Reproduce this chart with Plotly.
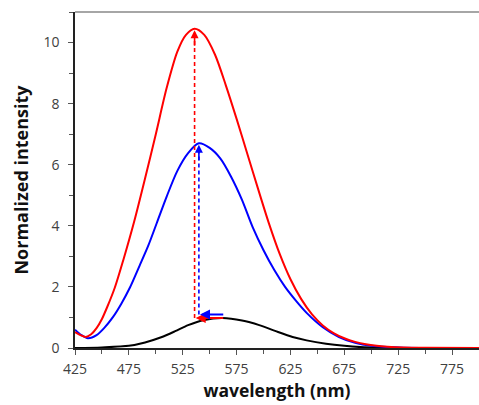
import plotly.graph_objects as go

# ---- data ----
red_wl = [425, 430, 435, 440, 445, 450, 455, 462, 470, 480, 490, 500, 510, 520, 528, 536,
          545, 555, 565, 575, 585, 595, 605, 615, 625, 635, 645, 655, 665, 675, 685, 695,
          705, 715, 730, 750, 800]
red_val = [0.52, 0.42, 0.36, 0.45, 0.65, 0.95, 1.35, 1.98, 2.90, 4.15, 5.55, 7.00, 8.50,
           9.70, 10.25, 10.45, 10.25, 9.60, 8.60, 7.50, 6.35, 5.20, 4.08, 3.08, 2.25, 1.60,
           1.10, 0.74, 0.49, 0.32, 0.20, 0.12, 0.07, 0.04, 0.015, 0.005, 0.0]

blue_wl = [425, 431, 437, 445, 452, 460, 468, 476, 485, 493, 501, 510, 520, 530, 540, 550,
           560, 570, 580, 590, 600, 610, 620, 630, 640, 655, 670, 685, 700, 715, 730, 800]
blue_val = [0.60, 0.42, 0.32, 0.42, 0.65, 1.00, 1.45, 1.98, 2.70, 3.35, 4.10, 4.95, 5.80,
            6.38, 6.70, 6.55, 6.20, 5.60, 4.85, 3.95, 3.20, 2.55, 2.00, 1.55, 1.15, 0.68,
            0.36, 0.17, 0.07, 0.03, 0.01, 0.0]

black_wl = [425, 450, 475, 490, 505, 518, 530, 545, 562, 580, 596, 610, 627, 640, 658, 675,
            690, 710, 740, 800]
black_val = [0.0, 0.02, 0.07, 0.18, 0.35, 0.55, 0.75, 0.92, 0.98, 0.90, 0.75, 0.57, 0.36,
             0.25, 0.14, 0.07, 0.03, 0.01, 0.0, 0.0]

# arrow guides: start wavelength of horizontal arrows, and their levels
arrow_start_wl = 564
red_base = 0.98
blue_base = 1.10

x_ticks = [425, 475, 525, 575, 625, 675, 725, 775]
y_ticks = [0, 2, 4, 6, 8, 10]

fig = go.Figure()

for wl, val, col in [(black_wl, black_val, "black"), (blue_wl, blue_val, "#0000ff"),
                     (red_wl, red_val, "#ff0000")]:
    fig.add_trace(go.Scatter(x=wl, y=val, mode="lines",
                             line=dict(color=col, width=2, shape="spline", smoothing=0.8),
                             showlegend=False, hoverinfo="skip"))

# peaks
r_i = red_val.index(max(red_val))
b_i = blue_val.index(max(blue_val))
red_pk_wl, red_pk = red_wl[r_i], red_val[r_i]
blue_pk_wl, blue_pk = blue_wl[b_i], blue_val[b_i]

for pk_wl, pk, base, col in [(red_pk_wl, red_pk, red_base, "#ff0000"),
                             (blue_pk_wl, blue_pk, blue_base, "#0000ff")]:
    # dashed vertical
    fig.add_trace(go.Scatter(x=[pk_wl, pk_wl], y=[base, pk - 0.1], mode="lines",
                             line=dict(color=col, width=1.6, dash="4px,3px"),
                             showlegend=False, hoverinfo="skip"))
    # horizontal arrow (pointing left)
    fig.add_annotation(x=pk_wl + 1, y=base, ax=arrow_start_wl, ay=base,
                       xref="x", yref="y", axref="x", ayref="y",
                       showarrow=True, arrowhead=2, arrowsize=1, arrowwidth=2,
                       arrowcolor=col, text="")
    # up arrowhead at top
    fig.add_annotation(x=pk_wl, y=pk - 0.05, ax=pk_wl, ay=pk - 0.6,
                       xref="x", yref="y", axref="x", ayref="y",
                       showarrow=True, arrowhead=2, arrowsize=1, arrowwidth=1.6,
                       arrowcolor=col, text="")

# top border line
fig.add_shape(type="line", xref="paper", yref="paper", x0=0, x1=1, y0=1, y1=1,
              line=dict(color="#888888", width=1.5))

tick_font = dict(family="Open Sans, Liberation Sans, sans-serif", size=14, color="#404040")

fig.update_layout(
    width=479, height=405,
    margin=dict(l=75, r=0, t=12, b=57),
    paper_bgcolor="white", plot_bgcolor="white",
    xaxis=dict(range=[425, 800], tickvals=x_ticks, ticktext=[str(v) for v in x_ticks],
               ticks="outside", ticklen=5, tickcolor="#555555", tickwidth=1,
               minor=dict(tick0=425, dtick=25, ticks="outside", ticklen=4, tickcolor="#555555"),
               showline=True, linecolor="#222222", linewidth=1.5, showgrid=False, zeroline=False,
               tickfont=tick_font, ticklabelstandoff=2,
               title=dict(text="<b>wavelength (nm)</b>",
                          font=dict(family="Open Sans, Liberation Sans, sans-serif",
                                    size=17.5, color="#111111"),
                          standoff=0)),
    yaxis=dict(range=[0, 11], tickvals=y_ticks, ticktext=[str(v) for v in y_ticks],
               ticks="outside", ticklen=5, tickcolor="#555555", tickwidth=1,
               minor=dict(tick0=0, dtick=1, ticks="outside", ticklen=4, tickcolor="#555555"),
               showline=True, linecolor="#222222", linewidth=1.5, showgrid=False, zeroline=False,
               tickfont=tick_font, ticklabelstandoff=6,
               title=dict(text="<b>Normalized intensity</b>",
                          font=dict(family="Open Sans, Liberation Sans, sans-serif",
                                    size=18, color="#111111"),
                          standoff=10)),
)

fig.write_html("out.html")
